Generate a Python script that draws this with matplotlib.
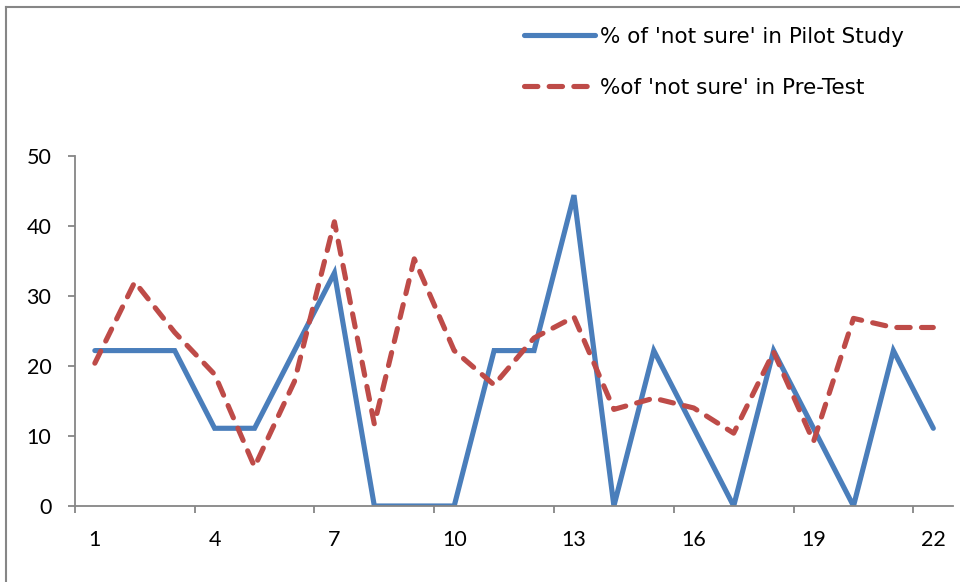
import matplotlib
matplotlib.use("Agg")
import matplotlib.pyplot as plt
from matplotlib.lines import Line2D

plt.rcParams['font.family'] = ['Lato', 'DejaVu Sans']

# Question number on the x axis
items = list(range(1, 23))
tick_labels = ['1', '4', '7', '10', '13', '16', '19', '22']

pilot_study = [22.2, 22.2, 22.2, 11.1, 11.1, 22.2, 33.3, 0, 0, 0, 22.2,
               22.2, 44.4, 0, 22.2, 11.1, 0, 22.2, 11.1, 0, 22.2, 11.1]
pre_test = [20.4, 32.0, 24.8, 18.8, 5.6, 17.8, 40.6, 11.7, 35.3, 22.2, 17.3,
            24.0, 27.0, 13.8, 15.4, 14.0, 10.4, 22.0, 9.2, 26.8, 25.5, 25.5]

label_pilot = "% of 'not sure' in Pilot Study"
label_pre = "%of 'not sure' in Pre-Test"

blue = '#4A7EBB'
red = '#BE4B48'
grey = '#868686'

fig = plt.figure(figsize=(9.6, 5.82), dpi=100)
ax = fig.add_axes([0.078, 0.1306, 0.915, 0.6014])

ax.plot(items, pilot_study, color=blue, lw=3.7, solid_joinstyle='miter',
        solid_capstyle='round')
ax.plot(items, pre_test, color=red, lw=3.7, dashes=(2.6, 2.2),
        dash_capstyle='round', dash_joinstyle='round')

ax.set_xlim(0.5, 22.5)
ax.set_ylim(0, 50)
ax.set_yticks(range(0, 51, 10))
ax.set_xticks([i + 0.5 for i in range(0, 23, 3)])
ax.set_xticklabels([])
ax.set_xticks([int(t) for t in tick_labels], minor=True)
ax.set_xticklabels(tick_labels, minor=True)

for s in ['top', 'right']:
    ax.spines[s].set_visible(False)
for s in ['left', 'bottom']:
    ax.spines[s].set_color(grey)
    ax.spines[s].set_linewidth(1.3)

ax.tick_params(axis='y', length=5, width=1.3, color=grey, pad=12,
               labelsize=15.5)
ax.tick_params(axis='x', which='major', length=5, width=1.3, color=grey)
ax.tick_params(axis='x', which='minor', length=0, pad=17, labelsize=15.5)

handles = [Line2D([], [], color=blue, lw=3.7, solid_capstyle='round'),
           Line2D([], [], color=red, lw=3.7, dashes=(2.6, 2.2),
                  dash_capstyle='round')]
fig.legend(handles, [label_pilot, label_pre], loc='upper left',
           bbox_to_anchor=(0.5258, 0.987), frameon=False,
           prop={'family': ['DejaVu Sans'], 'size': 15.5},
           handlelength=3.3, handletextpad=0.22, labelspacing=1.43)

# outer chart frame
fig.add_artist(Line2D([6 / 960, 6 / 960], [0, 1 - 7 / 582],
                      transform=fig.transFigure, color=grey, lw=1.5))
fig.add_artist(Line2D([6 / 960, 1], [1 - 7 / 582, 1 - 7 / 582],
                      transform=fig.transFigure, color=grey, lw=1.5))

fig.savefig('out.png', dpi=100)
